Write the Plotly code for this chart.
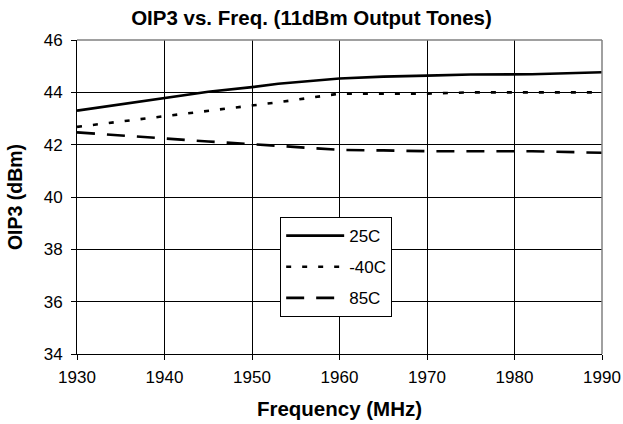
import plotly.graph_objects as go

freq = [1930, 1940, 1945, 1950, 1953, 1960, 1965, 1970, 1975, 1982, 1990]
oip3_25c = [43.30, 43.77, 44.02, 44.20, 44.33, 44.53, 44.60, 44.64, 44.68, 44.69, 44.77]
oip3_m40c = [42.68, 43.09, 43.28, 43.48, 43.62, 43.95, 43.95, 43.95, 44.00, 44.00, 44.00]
oip3_85c = [42.47, 42.22, 42.12, 42.02, 41.96, 41.80, 41.78, 41.75, 41.75, 41.75, 41.69]

x_ticks = [1930, 1940, 1950, 1960, 1970, 1980, 1990]
y_ticks = [34, 36, 38, 40, 42, 44, 46]

series = [
    ("25C", oip3_25c, "solid"),
    ("-40C", oip3_m40c, "5px,11px"),
    ("85C", oip3_85c, "18px,12px"),
]

fig = go.Figure()
for name, vals, dash in series:
    fig.add_trace(go.Scatter(
        x=freq, y=vals, name=name, mode="lines", legendgroup=name,
        line=dict(color="black", width=2.6, dash=dash),
    ))

font_family = "Liberation Sans, Arial, sans-serif"
fig.update_layout(
    width=623, height=424,
    margin=dict(l=77, r=21, t=40, b=70),
    paper_bgcolor="white", plot_bgcolor="white",
    font=dict(family=font_family, color="black", size=16),
    title=dict(text="<b>OIP3 vs. Freq. (11dBm Output Tones)</b>",
               x=0.5, xanchor="center", y=0.957, yanchor="middle",
               font=dict(size=20.5, family=font_family, color="black")),
    legend=dict(x=0.387, y=0.436, xanchor="left", yanchor="top",
                bgcolor="white", bordercolor="black", borderwidth=1,
                font=dict(size=17, family=font_family, color="black"),
                tracegroupgap=6, itemwidth=58),
    showlegend=True,
)
fig.update_xaxes(
    range=[1930, 1990], tickvals=x_ticks, ticktext=[str(v) for v in x_ticks],
    showgrid=True, gridcolor="black", gridwidth=1,
    showline=True, linecolor="black", linewidth=1,
    ticks="outside", ticklen=5, tickcolor="black",
    tickfont=dict(size=17), automargin=False, ticklabelstandoff=3,
    title=dict(text="<b>Frequency (MHz)</b>", font=dict(size=20.5)),
    zeroline=False,
)
fig.update_yaxes(
    range=[34, 46], tickvals=y_ticks, ticktext=[str(v) for v in y_ticks],
    showgrid=True, gridcolor="black", gridwidth=1,
    showline=True, linecolor="black", linewidth=1,
    ticks="outside", ticklen=5, tickcolor="black",
    tickfont=dict(size=17), automargin=False, ticklabelstandoff=5,
    title=dict(text="<b>OIP3 (dBm)</b>", font=dict(size=19.5)),
    zeroline=False,
)
fig.add_shape(type="line", xref="paper", yref="paper", x0=0, x1=1, y0=1, y1=1,
              line=dict(color="#808080", width=1.5), layer="above")
fig.add_shape(type="line", xref="paper", yref="paper", x0=1, x1=1, y0=0, y1=1,
              line=dict(color="#808080", width=1.5), layer="above")

fig.write_html("out.html", config={"displayModeBar": False},
               post_script="document.body.style.margin='0';")
